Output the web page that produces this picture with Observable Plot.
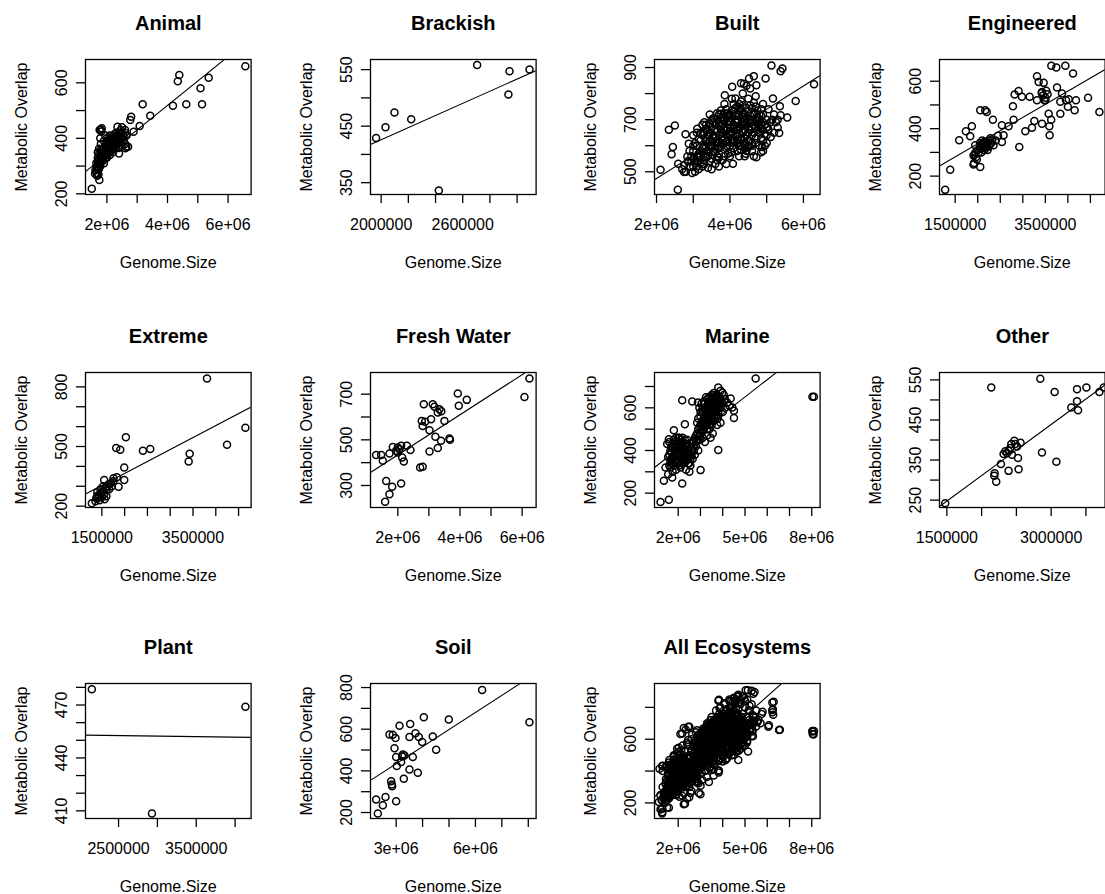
<!DOCTYPE html>
<html><head><meta charset="utf-8">
<script src="https://cdn.jsdelivr.net/npm/d3@7"></script>
<script src="https://cdn.jsdelivr.net/npm/@observablehq/plot@0.6"></script>
<style>
html,body{margin:0;padding:0;background:#fff;}
#root{position:relative;width:1105px;height:894px;overflow:hidden;background:#fff;}
#root svg{position:absolute;overflow:visible;}
</style></head><body><div id="root"></div>
<script>
// ---------- DATA (genome size in Mb, metabolic overlap) ----------
const titles = ["Animal","Brackish","Built","Engineered","Extreme","Fresh Water","Marine","Other","Plant","Soil","All Ecosystems"];

const animalPts = [[6.57,660],[5.36,618],[5.09,580],[5.14,523],[4.62,523],[4.18,517],[4.39,628],[4.34,606],[3.18,523],[3.43,481],[3.08,444],[2.80,478],[2.77,466],[2.88,424],[2.61,364],[2.35,442],[1.83,436],[1.80,432],[1.74,362],[1.50,218],[1.75,250],[1.61,272],[1.67,292],[2.64,370],
[1.62,285],[1.65,295],[1.68,300],[1.70,290],[1.72,310],[1.75,305],[1.78,320],[1.80,315],[1.82,330],[1.85,325],[1.85,340],[1.88,335],[1.90,350],[1.92,345],[1.95,355],[1.98,360],[2.0,350],[2.02,370],[2.05,365],[2.08,375],[2.1,360],[2.12,380],[2.15,385],[2.18,370],[2.2,390],[2.22,395],[2.25,380],[2.28,400],[2.3,405],[2.32,390],[2.35,410],[2.38,400],[2.4,415],[2.45,405],[2.5,420],[2.55,395],[2.6,380],[2.65,410],[1.7,330],[1.75,345],[1.8,360],[1.9,310],[2.0,330],[2.1,340],[2.2,350],[2.3,365],[1.78,400],[1.82,425],[1.76,430],[1.95,410],[2.05,395],[2.6,430],[2.45,430],[1.72,270],[1.68,265],[2.7,370],[2.4,345],[1.95,330],[2.05,345],[2.15,355],[2.25,370],[2.35,380],[1.88,360],[2.12,400],[2.3,420],[2.5,440],
[1.65,310],[1.7,320],[1.75,330],[1.8,340],[1.85,355],[1.9,365],[1.95,375],[2.0,385],[2.05,390],[2.1,395],[2.15,400],[2.2,410],[2.25,415],[2.3,395],[2.35,395],[2.4,385],[2.45,390],[2.5,400],[2.55,410],[2.6,420],[1.7,350],[1.8,380],[1.9,390],[2.0,400],[2.1,410],[1.78,300],[1.88,320],[1.98,340],[2.08,355],[2.18,360],[2.28,375],[2.38,365],[2.48,375],[1.66,275],[1.74,290]];
const brackishPts = [[1.963,429],[2.032,448],[2.098,474],[2.221,462],[2.424,336],[2.706,558],[2.944,547],[2.936,506],[3.091,550]];
const builtPts = [[2.109,508],[2.336,661],[2.5,678],[2.445,595],[2.41,567],[2.58,431],[2.59,531],[2.79,644],[2.88,608],[2.84,559],[3.11,665],[2.97,495],[2.75,499],[3.745,723],[3.86,794],[4.06,826],[4.15,781],[4.38,838],[4.52,858],[4.65,867],[4.72,832],[4.97,858],[5.13,908],[5.38,886],[5.43,896],[5.17,781],[5.36,751],[5.38,717],[5.56,708],[5.79,772],[6.29,836],[5.34,649],[4.88,595],[4.72,556],[4.08,531],[4.43,569],[5.02,672],[5.11,633],[4.79,672],
[3.0,520],[3.1,540],[3.2,560],[3.3,530],[3.4,580],[3.5,550],[3.6,600],[3.7,570],[3.8,620],[3.9,590],[4.0,640],[4.1,610],[4.2,660],[4.3,630],[4.4,680],[4.5,650],[4.6,700],[4.7,670],[4.8,720],[4.9,690],
[3.1,600],[3.2,620],[3.3,650],[3.4,640],[3.5,670],[3.6,660],[3.7,690],[3.8,700],[3.9,710],[4.0,720],[4.1,730],[4.2,700],[4.3,740],[4.4,720],[4.5,730],[4.6,745],[4.7,750],[4.8,700],[4.9,660],[5.0,640],
[3.2,580],[3.3,600],[3.4,610],[3.5,620],[3.6,630],[3.7,640],[3.8,650],[3.9,660],[4.0,670],[4.1,680],[4.2,690],[4.3,600],[4.4,610],[4.5,620],[4.6,640],[4.7,630],[4.8,650],[4.9,620],[4.2,580],[4.0,560],[3.8,545],[3.6,530],[4.4,560],[4.6,580],[3.0,580],[3.1,650],[3.3,690],[3.5,700],[3.7,720],[3.9,740],[4.1,760],[4.3,770],[4.5,780],[4.7,790],[4.9,760],[5.0,700],[4.95,600],[4.6,610],[4.4,660],[4.2,640],
[2.7,510],[2.8,500],[2.9,520],[3.0,550],[2.85,540],[2.75,525],[3.05,500],[3.15,510],[3.4,515],[3.7,520],[3.9,530],[3.5,510],[2.95,560],[3.25,680],[3.45,720],
[4.2,750],[4.35,800],[4.55,820],[4.3,840],[4.45,830],[5.05,740],[5.2,720],[5.25,690],[5.3,670],[5.1,690],[5.2,650],[5.3,700],
[3.15,570],[3.25,590],[3.35,620],[3.45,600],[3.55,640],[3.65,610],[3.75,660],[3.85,630],[3.95,680],[4.05,650],[4.15,700],[4.25,670],[4.35,710],[4.45,690],[4.55,700],[4.65,680],[4.75,710],[4.85,680],[3.55,580],[3.75,600],[3.95,620],[4.15,640],[4.35,650],[4.55,660],[4.75,660],[3.35,560],[3.65,560],[3.95,570],[4.25,600],[4.5,600],[4.85,630],[3.85,760],[4.05,780],[4.25,720],[4.65,720],[4.85,740],
[3.05,535],[3.15,555],[3.25,575],[3.35,595],[3.45,615],[3.55,635],[3.65,655],[3.75,675],[3.85,695],[3.95,715],[4.05,735],[4.15,745],[4.25,760],[4.35,755],[4.45,745],[4.55,755],[4.65,765],[4.75,735],[4.85,715],[4.95,680],
[3.05,610],[3.15,625],[3.25,640],[3.35,665],[3.45,685],[3.55,705],[3.65,725],[3.75,735],[3.85,725],[3.95,695],[4.05,705],[4.15,715],[4.25,735],[4.35,725],[4.45,705],[4.55,715],[4.65,725],[4.75,695],[4.85,665],[4.95,645],
[3.1,520],[3.2,535],[3.3,545],[3.4,560],[3.5,590],[3.6,575],[3.7,590],[3.8,605],[3.9,615],[4.0,600],[4.1,625],[4.2,620],[4.3,585],[4.4,590],[4.5,595],[4.6,600],[4.7,610],[4.8,600],[4.9,580],[5.0,610],
[3.25,520],[3.45,540],[3.65,545],[3.85,560],[4.05,575],[4.25,560],[4.45,580],[4.65,560],[4.85,575],[3.35,680],[3.55,690],[3.75,705],[3.95,725],[4.15,690],[4.35,690],[4.55,685],[4.75,685],[4.9,720],[5.05,660],[5.15,700],
[3.0,600],[3.0,640],[2.9,580],[2.95,540],[3.1,560],[3.2,650],[3.4,660],[3.6,680],[3.8,680],[4.0,690],[4.2,670],[4.4,700],[4.6,670],[4.8,680],[5.0,670],
[3.45,650],[3.65,700],[3.85,665],[4.05,620],[4.25,650],[4.45,640],[4.65,650],[3.6,615],[3.8,635],[4.0,655],[4.2,610],[4.4,630],[3.5,600],[3.7,610],[3.9,645],[4.1,665],[4.3,680],[4.5,670],[4.7,700],[3.3,570],[3.5,565],[3.7,555],[3.9,600],[4.1,590],[4.3,620]];
const engineeredPts = [[1.278,142],[1.389,227],[1.589,351],[1.737,389],[1.833,368],[1.87,410],[1.944,330],[2.056,478],[2.167,478],[2.2,470],[2.337,438],[2.056,238],[1.907,249],[1.907,287],[2.537,344],[2.574,372],[2.685,410],[2.796,438],[2.781,494],[2.819,544],[2.907,559],[2.98,534],[3.152,534],[2.922,323],[3.056,389],[3.204,404],[3.256,432],[3.315,621],[3.352,597],[3.463,593],[3.426,555],[3.315,520],[3.5,520],[3.426,421],[3.589,410],[3.596,372],[3.574,463],[3.63,438],[3.633,665],[3.744,658],[3.944,665],[4.115,632],[3.759,573],[3.87,548],[3.833,513],[3.833,463],[3.959,520],[4.0,492],[4.019,524],[4.15,478],[4.18,520],[4.448,530],[4.7,470],[3.45,540],[3.5,530],[3.55,545],[3.48,520],[3.42,550],[3.52,560],[2.537,414],[1.93,290],[1.96,280],[1.95,300],[1.98,270],[2.0,310],[2.05,320],[2.1,330],[2.12,340],[2.15,345],[2.2,335],[2.25,350],[2.18,320],[2.3,340],[2.35,330],[2.22,310],[2.08,300],[2.28,360],[2.4,350],[1.92,255],[2.45,370],[2.1,350],[2.15,310],[2.05,340],[2.25,325],
[2.02,300],[2.12,320],[2.2,325],[2.28,335],[2.18,345],[2.08,330],[2.32,350]];
const extremePts = [[3.808,842],[4.65,594],[4.247,509],[3.427,464],[3.405,425],[2.562,487],[2.401,479],[2.027,546],[1.903,484],[1.815,492],[1.991,394],[1.991,332],[1.83,345],[1.866,298],[1.756,340],[1.551,332],[1.28,214],[1.39,247],
[1.38,240],[1.42,255],[1.45,230],[1.48,265],[1.5,245],[1.52,275],[1.55,260],[1.58,290],[1.6,280],[1.62,300],[1.65,310],[1.7,315],[1.75,325],[1.4,270],[1.47,285],[1.56,235],[1.6,250],[1.53,300],[1.66,285],[1.72,300],[1.44,245],[1.36,225]];
const freshPts = [[6.236,769],[6.075,688],[3.93,703],[3.962,649],[4.22,675],[2.836,656],[3.126,656],[3.34,634],[3.287,620],[2.772,583],[2.88,579],[2.8,561],[3.07,590],[3.5,583],[3.02,542],[3.21,513],[3.39,496],[3.287,464],[3.02,449],[3.66,506],[3.68,500],[2.718,379],[2.8,382],[1.303,434],[1.464,434],[1.517,408],[1.732,440],[1.839,469],[1.946,452],[2.0,466],[2.107,474],[2.29,474],[2.407,455],[2.193,405],[2.14,423],[1.625,320],[1.818,294],[1.732,262],[1.592,229],[2.107,309],[2.0,445],[2.054,459],[3.18,645],[3.4,625]];
const marinePts = [[1.205,159],[1.58,169],[1.355,258],[2.18,245],[3.005,308],[3.8,402],[2.18,636],[2.63,630],[2.885,625],[1.805,495],[2.3,523],[5.48,738],[8.03,652],[8.1,652],[4.505,586],[4.505,552],[4.43,602],[4.355,644],[3.8,695],[3.98,672],[1.58,453],[1.505,430],[1.43,320],[1.55,289],[1.73,273],[4.05,660],[3.83,645],[4.2,625],[3.9,680],[4.1,640],[4.3,610],[3.755,548],[3.9,530],
[1.6,330],[1.7,350],[1.8,370],[1.9,390],[2.0,410],[2.1,420],[2.2,400],[2.3,380],[2.4,360],[2.5,340],[1.65,400],[1.75,420],[1.85,440],[1.95,430],[2.05,380],[2.15,360],[2.25,345],[2.35,420],[2.45,400],[2.55,380],[2.6,430],[1.55,370],[1.7,390],[1.8,330],[1.9,310],[2.0,340],[2.1,320],[2.2,440],[2.3,450],[2.4,430],[1.6,440],[2.7,400],[2.8,420],[2.75,380],[2.65,360],[2.85,450],[2.9,400],[1.95,360],[2.05,460],[1.75,300],[2.35,310],[2.5,300],[1.85,400],[2.0,380],[2.15,400],[2.3,410],[2.45,370],[1.7,420],[2.6,400],[1.9,350],[2.25,375],
[1.65,350],[1.75,360],[1.85,380],[1.95,400],[2.05,420],[2.15,430],[2.25,410],[2.35,390],[2.45,380],[2.55,360],[1.6,380],[1.7,410],[1.8,430],[1.9,420],[2.0,440],[2.1,450],[2.2,420],[2.3,400],[2.4,390],[2.5,370],[1.65,320],[1.75,340],[1.85,350],[1.95,340],[2.05,330],[2.15,340],[2.25,360],[2.35,350],[2.45,340],[2.55,330],[2.6,380],[2.7,420],[2.8,440],[2.65,440],[2.75,460],[1.8,450],[1.9,460],[2.0,460],[2.2,460],[2.4,450],
[2.8,470],[2.9,500],[3.0,520],[3.1,540],[3.2,560],[3.3,580],[3.4,600],[3.5,620],[3.6,640],[3.7,650],[2.9,450],[3.0,480],[3.1,490],[3.2,510],[3.3,530],[3.4,550],[3.5,570],[3.6,590],[3.7,600],[3.8,620],[3.0,560],[3.1,580],[3.2,600],[3.3,610],[3.4,630],[3.5,650],[3.6,660],[3.3,470],[3.4,500],[3.5,520],[3.6,540],[3.7,560],[3.8,580],[3.9,600],[3.2,440],[3.45,460],[3.65,610],[3.75,630],[3.85,650],[2.95,600],[3.05,620],[3.15,630],[3.9,640],[4.0,620],[4.1,600],[4.0,580],[3.75,520],[3.55,480],[2.85,530],[3.25,650],[3.05,500],[3.15,520],[3.25,540],[3.35,560],[3.45,580],[3.55,600],[3.65,620],
[2.85,480],[2.95,510],[3.05,530],[3.15,550],[3.25,570],[3.35,590],[3.45,610],[3.55,630],[3.65,650],[3.75,660],[2.95,470],[3.05,490],[3.15,500],[3.25,520],[3.35,540],[3.45,560],[3.55,590],[3.65,600],[3.75,610],[3.85,630],[3.1,600],[3.2,620],[3.3,640],[3.4,650],[3.5,660],[3.6,670],[3.7,620],[3.8,600],[3.9,620],[3.3,500],[3.4,520],[3.5,540],[3.6,560],[3.7,580],[3.8,560],[3.0,450],[3.1,460],[2.9,550],[3.0,580],[3.4,580]];
const otherPts = [[1.476,242],[2.139,531],[2.844,553],[3.05,520],[3.372,527],[3.507,531],[3.694,520],[3.756,531],[3.372,497],[3.29,481],[3.387,474],[2.868,369],[3.075,346],[2.187,317],[2.182,311],[2.21,296],[2.388,323],[2.532,327],[2.278,340],[2.316,365],[2.364,367],[2.388,373],[2.412,380],[2.427,390],[2.47,398],[2.484,390],[2.51,384],[2.523,355],[2.56,393],[2.436,363],[2.34,372]];
const plantPts = [[2.156,479],[4.133,469],[2.93,408.5]];
const soilPts = [[6.253,788],[8.044,633],[4.992,646],[4.047,657],[3.53,625],[3.126,617],[2.748,574],[2.874,573],[2.975,558],[3.504,562],[3.731,581],[3.857,562],[3.984,538],[4.387,565],[4.513,501],[2.937,509],[3.252,479],[3.227,469],[3.315,474],[3.0,466],[3.189,442],[3.63,466],[3.025,423],[3.504,407],[3.82,391],[3.29,362],[2.811,350],[2.836,335],[2.849,326],[2.596,275],[2.243,262],[2.496,235],[3.0,254],[2.306,195]];
const allExtraPts = [[1.28,133],[1.28,165],[1.5,171],[1.13,206],[2.25,192],[2.55,262],[2.93,262],[2.4,227],[3.38,331],[3.83,404],[4.73,529],[5.1,617],[5.33,658],[6.05,679],[6.53,658],[6.23,831],[6.23,783],[6.27,754],[5.75,758],[8.03,648],[8.08,629],[5.3,904],[5.03,908],[4.66,873],[3.83,848],[2.25,671],[2.45,679],[2.1,633],[1.95,540],[1.28,431],[1.16,415],
[4.0,460],[4.2,480],[4.4,500],[4.6,520],[4.8,540],[5.0,560],[4.1,520],[4.3,540],[4.5,560],[3.8,470],[3.6,450],[3.4,420],[3.2,400],[3.0,380],[2.8,360],[3.5,480],[3.3,460],[3.1,440],[2.9,420],[2.7,400],[2.5,420],[2.3,450],[2.1,470],[1.9,450],[1.7,440],[1.5,300],[1.4,260],[1.35,240],[1.45,350],[1.55,390],[1.3,300],[1.2,250],[1.25,220],[1.4,200],[2.5,500],[2.7,550],[2.9,600],[3.1,650],[3.3,700],[3.5,740],[3.7,780],[3.9,800],[4.1,820],[4.3,850],[4.5,860],[4.7,880],[4.9,870],[5.1,850],[5.3,820],[5.5,780],[5.4,740],[5.2,700],[5.6,720],[5.5,680],[5.7,700],[2.6,600],[2.4,580],[2.2,560],[2.0,520],[1.8,500],[1.6,470],[1.3,400],[2.8,480],[3.0,500],[3.6,560],[3.9,620],[4.2,700],[4.4,760],[4.6,800],[4.8,820],[5.0,800],[5.2,780],
[2.6,520],[2.8,540],[3.0,600],[3.2,660],[3.4,690],[3.6,720],[3.8,740],[4.0,760],[4.2,790],[4.4,810],[4.6,840],[4.8,850],[5.0,840],[5.2,810],[2.4,480],[2.2,500],[2.0,480],[1.8,470],[1.6,420],[1.5,340],[3.9,480],[4.1,500],[4.3,510],[4.5,530],[4.7,550],[4.9,560],[5.1,590],[5.3,620],[5.4,700]];

const xDomains = [[1.293,6.76],[1.9216,3.1397],[1.945,6.4545],[1.152,4.826],[1.141,4.775],[1.121,6.45],[0.935,8.375],[1.394,3.776],[2.0746,4.206],[2.029,8.296],[0.935,8.375]];
const yDomains = [[197.6,684],[329.1,567.9],[412.8,930.8],[122.5,691.5],[193.2,872.3],[203.6,794.9],[132.8,765.6],[231.6,568.5],[405.65,482.2],[171.3,819.4],[102,950]];
// fitted lines: intercept, slope per Mb
const fitIntercepts = [166.1, 211.1, 296.7, 114.7, 123.4, 258.5, 244.3, 56.8, 454.2, 187.9, 120.9];
const fitSlopes = [88.1, 107.4, 88.7, 110.8, 120.4, 87.8, 81.3, 127.3, -0.61, 82.1, 124.7];

// tick positions (Mb) and labelled ticks
const xTicks = [[2,3,4,5,6],[2.0,2.2,2.4,2.6,2.8,3.0],[2,3,4,5,6],[1.5,2,2.5,3,3.5,4,4.5],[1.5,2,2.5,3,3.5,4,4.5],[2,3,4,5,6],[2,3,4,5,6,7,8],[1.5,2,2.5,3,3.5],[2.5,3,3.5,4],[3,4,5,6,7,8],[2,3,4,5,6,7,8]];
const xLabelTicks = [[2,4,6],[2.0,2.6],[2,4,6],[1.5,3.5],[1.5,3.5],[2,4,6],[2,5,8],[1.5,3.0],[2.5,3.5],[3,6],[2,5,8]];
const xLabelTexts = [["2e+06","4e+06","6e+06"],["2000000","2600000"],["2e+06","4e+06","6e+06"],["1500000","3500000"],["1500000","3500000"],["2e+06","4e+06","6e+06"],["2e+06","5e+06","8e+06"],["1500000","3000000"],["2500000","3500000"],["3e+06","6e+06"],["2e+06","5e+06","8e+06"]];
const yTicks = [[200,300,400,500,600],[350,400,450,500,550],[500,600,700,800,900],[200,300,400,500,600],[200,300,400,500,600,700,800],[300,400,500,600,700],[200,300,400,500,600,700],[250,300,350,400,450,500,550],[410,420,430,440,450,460,470,480],[200,300,400,500,600,700,800],[200,400,600,800]];
const yLabelTicks = [[200,400,600],[350,450,550],[500,700,900],[200,400,600],[200,500,800],[300,500,700],[200,400,600],[250,350,450,550],[410,440,470],[200,400,600,800],[200,600]];

const xTitle = "Genome.Size";
const yTitle = "Metabolic Overlap";

// ---------- DRAW ----------
const allPts = [].concat(animalPts, brackishPts, builtPts, engineeredPts, extremePts, freshPts, marinePts, otherPts, plantPts, soilPts, allExtraPts);
const ptsList = [animalPts, brackishPts, builtPts, engineeredPts, extremePts, freshPts, marinePts, otherPts, plantPts, soilPts, allPts];

const FONT = "'Liberation Sans', Arial, Helvetica, sans-serif";
const colLeft = [0.3, 285.3, 569.3, 854];
const rowTop = [0, 312.7, 624.3];
const root = document.getElementById("root");
const M = 1e6;

titles.forEach((title, i) => {
  const pts = ptsList[i].map(([x, y]) => ({x: x * M, y}));
  const xd = xDomains[i].map(v => v * M);
  const a = fitIntercepts[i], b = fitSlopes[i];
  const fit = xd.map(x => ({x, y: a + b * x / M}));
  const xl = xLabelTicks[i].map((v, k) => ({v: v * M, t: xLabelTexts[i][k]}));
  const chart = Plot.plot({
    width: 285, height: 312,
    marginLeft: 85, marginRight: 34.4, marginTop: 59, marginBottom: 118,
    style: {fontFamily: FONT, fontSize: "16px", overflow: "visible", color: "black"},
    x: {domain: xd, axis: null},
    y: {domain: yDomains[i], axis: null},
    marks: [
      Plot.dot(pts, {x: "x", y: "y", r: 3.5, stroke: "black", strokeWidth: 1.5, fill: "none"}),
      Plot.line(fit, {x: "x", y: "y", stroke: "black", strokeWidth: 1.1, clip: true}),
      Plot.frame({stroke: "black", strokeWidth: 1.3}),
      Plot.axisX({ticks: xTicks[i].map(v => v * M), tickSize: 9, tickFormat: () => "", label: null, stroke: "black", strokeWidth: 1.3}),
      Plot.axisY({ticks: yTicks[i], tickSize: 9, tickFormat: () => "", label: null, stroke: "black", strokeWidth: 1.3}),
      Plot.text(xl, {x: "v", text: "t", frameAnchor: "bottom", dy: 30.5, lineAnchor: "middle", textAnchor: "middle", fontSize: 16, fill: "black"}),
      Plot.text(yLabelTicks[i], {y: d => d, text: d => String(d), frameAnchor: "left", dx: -24, rotate: -90, lineAnchor: "middle", textAnchor: "middle", fontSize: 16, fill: "black"}),
      Plot.text([xTitle], {frameAnchor: "bottom", dy: 68.5, lineAnchor: "middle", textAnchor: "middle", fontSize: 16, fill: "black"}),
      Plot.text([yTitle], {frameAnchor: "left", dx: -64, rotate: -90, lineAnchor: "middle", textAnchor: "middle", fontSize: 16, fill: "black"}),
      Plot.text([title], {frameAnchor: "top", dy: -36, lineAnchor: "middle", textAnchor: "middle", fontSize: 20, fontWeight: "bold", fill: "black"})
    ]
  });
  chart.style.left = colLeft[i % 4] + "px";
  chart.style.top = rowTop[Math.floor(i / 4)] + "px";
  root.appendChild(chart);
});
</script></body></html>
